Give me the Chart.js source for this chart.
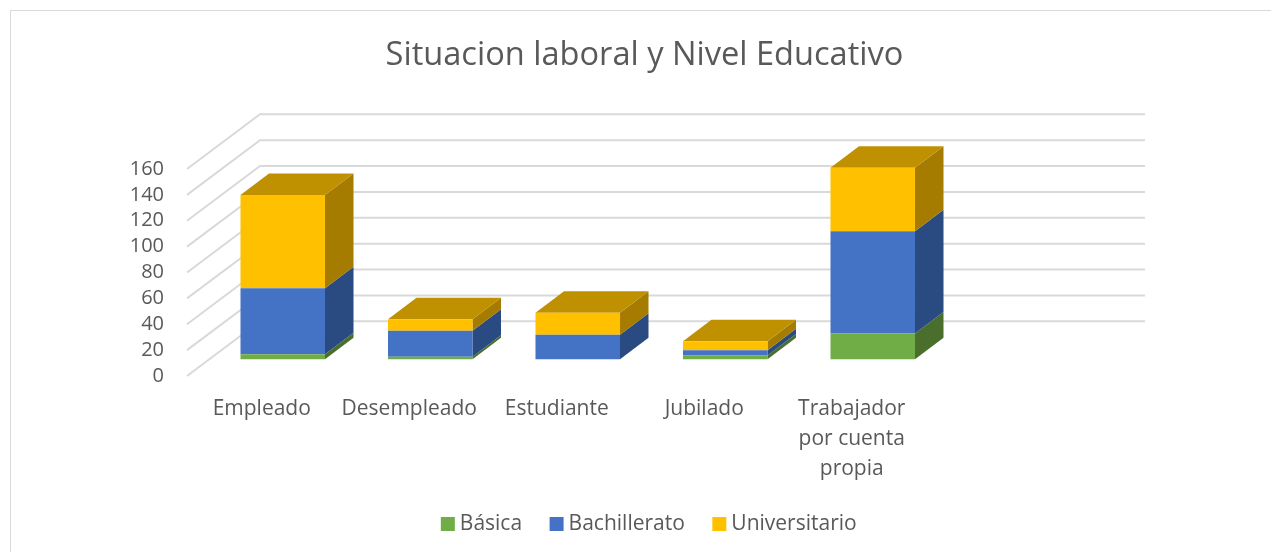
<!DOCTYPE html>
<html lang="es">
<head>
<meta charset="utf-8">
<style>
html,body{margin:0;padding:0;background:#fff;overflow:hidden}
#wrap{position:relative;width:1271px;height:552px}
#frame{position:absolute;left:10px;top:9.5px;right:-5px;bottom:-5px;border:1.5px solid #d9d9d9;box-sizing:border-box}
canvas{position:absolute;left:0;top:0}
</style>
<script src="https://cdn.jsdelivr.net/npm/chart.js@4"></script>
</head>
<body>
<div id="wrap"><div id="frame"></div><canvas id="c" width="1271" height="552"></canvas></div>
<script>
const categories = ["Empleado","Desempleado","Estudiante","Jubilado",["Trabajador","por cuenta","propia"],""];
const basica = [4,2,0,3,20,null];
const bachillerato = [51,20,19,4,79,null];
const universitario = [72,9,17,7,49,null];
const tickValues = [0,20,40,60,80,100,120,140,160];

const FONT = '"Open Sans", sans-serif';
const TEXT = '#595959';
const GRID = '#d9d9d9';
const WALL = {dx:73, dy:54.7, right:1145};
const BAR = {dx:22, dy:16.7, depthX:28.5, depthY:21.5};
const SIDE = ['#4A6F2C','#2A4A82','#A67C00'];
const TOP = '#BF9000';

function poly(ctx, pts, fill){
  ctx.beginPath();
  pts.forEach((p,i)=> i ? ctx.lineTo(p[0],p[1]) : ctx.moveTo(p[0],p[1]));
  ctx.closePath();
  ctx.fillStyle = fill;
  ctx.fill();
}

const bars3d = {
  id:'bars3d',
  afterLayout(chart){
    chart.titleBlock.left = 18; chart.titleBlock.right = 1271;
    const lg = chart.legend;
    const h = lg.height;
    lg.left = 32; lg.right = 1271;
    lg.top = 480.5; lg.bottom = lg.top + h;
  },
  beforeDatasetsDraw(chart){
    const {ctx, scales:{y}} = chart;
    const x0 = chart.chartArea.left;
    ctx.save();
    ctx.strokeStyle = GRID;
    ctx.lineWidth = 2;
    tickValues.forEach(v=>{
      const py = y.getPixelForValue(v);
      ctx.beginPath();
      ctx.moveTo(x0, py);
      ctx.lineTo(x0+WALL.dx, py-WALL.dy);
      ctx.lineTo(WALL.right, py-WALL.dy);
      ctx.stroke();
    });
    ctx.restore();
    ctx.save();
    ctx.translate(BAR.dx, -BAR.dy);
    const n = chart.data.datasets.length;
    for(let d=0;d<n;d++){
      chart.getDatasetMeta(d).data.forEach((el,i)=>{
        if(chart.data.datasets[d].data[i]==null) return;
        const p = el.getProps(['x','y','base','width'], true);
        const xr = p.x+p.width/2, xl = p.x-p.width/2;
        const dx = BAR.depthX, dy = BAR.depthY;
        poly(ctx, [[xr,p.base],[xr+dx,p.base-dy],[xr+dx,p.y-dy],[xr,p.y]], SIDE[d]);
        if(d===n-1){
          poly(ctx, [[xl,p.y],[xl+dx,p.y-dy],[xr+dx,p.y-dy],[xr,p.y]], TOP);
        }
      });
    }
  },
  afterDatasetsDraw(chart){
    chart.ctx.restore();
  }
};

new Chart(document.getElementById('c'), {
  type:'bar',
  plugins:[bars3d],
  data:{
    labels:categories,
    datasets:[
      {label:'Básica', data:basica, backgroundColor:'#70AD47', stack:'s'},
      {label:'Bachillerato', data:bachillerato, backgroundColor:'#4472C4', stack:'s'},
      {label:'Universitario', data:universitario, backgroundColor:'#FFC000', stack:'s'}
    ]
  },
  options:{
    responsive:false,
    animation:false,
    clip:false,
    barPercentage:0.573,
    categoryPercentage:1,
    layout:{padding:{left:0,right:199,top:0,bottom:0}},
    plugins:{
      tooltip:{enabled:false},
      title:{display:true,text:'Situacion laboral y Nivel Educativo',color:TEXT,
        font:{family:FONT,size:32.6,weight:'normal',lineHeight:1.2},padding:{top:36,bottom:93.9}},
      legend:{position:'bottom',
        labels:{color:TEXT,font:{family:FONT,size:21},usePointStyle:true,pointStyle:'rect',boxWidth:3,boxHeight:14,padding:33}}
    },
    scales:{
      x:{stacked:true,grid:{display:false},border:{display:false},
        afterFit(s){s.height=112;},
        ticks:{color:TEXT,font:{family:FONT,size:21,lineHeight:1.43},padding:10,labelOffset:1,maxRotation:0,minRotation:0,autoSkip:false}},
      y:{stacked:true,min:0,max:160,grid:{display:false},border:{display:false},
        afterFit(s){s.width=187;},
        ticks:{color:TEXT,font:{family:FONT,size:20},padding:15,stepSize:20,autoSkip:false}}
    }
  }
});
</script>
</body>
</html>
